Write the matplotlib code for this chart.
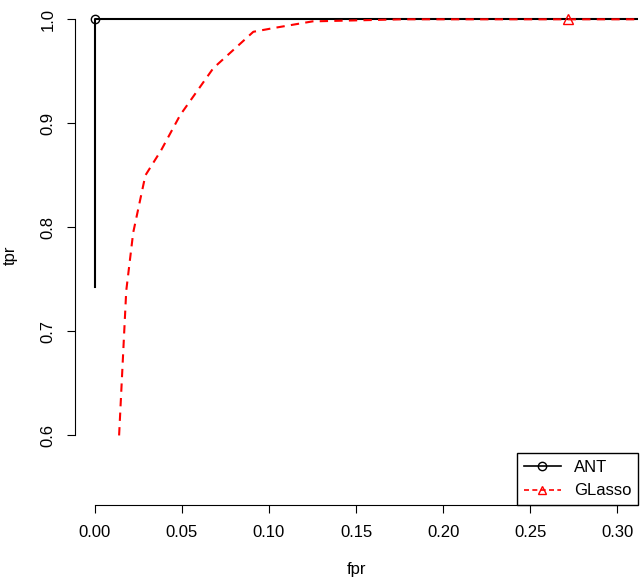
import matplotlib
matplotlib.use("Agg")
import matplotlib.pyplot as plt
from matplotlib.lines import Line2D

ant_fpr = [0.0, 0.0, 0.32]
ant_tpr = [0.743, 1.0, 1.0]
gl_fpr = [0.0139, 0.018, 0.022, 0.029, 0.038, 0.049, 0.068, 0.091, 0.104, 0.125, 0.177, 0.32]
gl_tpr = [0.600, 0.739, 0.795, 0.850, 0.874, 0.908, 0.953, 0.988, 0.992, 0.998, 1.0, 1.0]
ant_pt = (0.0, 1.0)
gl_pt = (0.272, 1.0)
xticks = [0.00, 0.05, 0.10, 0.15, 0.20, 0.25, 0.30]
yticks = [0.6, 0.7, 0.8, 0.9, 1.0]

plt.rcParams['font.family'] = ['Liberation Sans', 'DejaVu Sans']
fig = plt.figure(figsize=(6.4, 5.84), dpi=100)
ax = fig.add_axes([0.117, 0.135, 0.88, 0.856])
ax.plot(ant_fpr, ant_tpr, color='black', lw=1.5)
ax.plot(gl_fpr, gl_tpr, color='red', lw=1.5, ls=(0, (4, 3)))
ax.plot(*ant_pt, marker='o', mfc='none', mec='black', ms=6, ls='none')
ax.plot(*gl_pt, marker='^', mfc='none', mec='red', ms=7, ls='none')
ax.set_xlim(-0.0115, 0.312)
ax.set_ylim(0.533, 1.0135)
ax.spines['top'].set_visible(False)
ax.spines['right'].set_visible(False)
ax.spines['bottom'].set_bounds(xticks[0], xticks[-1])
ax.spines['left'].set_bounds(yticks[0], yticks[-1])
ax.set_xticks(xticks)
ax.set_xticklabels([f"{v:.2f}" for v in xticks])
ax.set_yticks(yticks)
ax.set_yticklabels([f"{v:.1f}" for v in yticks], rotation=90, va='center')
ax.tick_params(labelsize=12, length=6, pad=8)
ax.set_xlabel('fpr', fontsize=12, labelpad=16)
ax.set_ylabel('tpr', fontsize=12, labelpad=16)
handles = [Line2D([], [], color='black', marker='o', mfc='none', lw=1.2),
           Line2D([], [], color='red', marker='^', mfc='none', lw=1.2, ls=(0, (3, 2)))]
leg = ax.legend(handles, ['ANT', 'GLasso'], loc='lower right', bbox_to_anchor=(1.0, 0.0),
                fontsize=12, fancybox=False, edgecolor='black', framealpha=1,
                borderaxespad=0, handlelength=2.2)
leg.get_frame().set_linewidth(1.0)
fig.savefig('out.png', dpi=100)
